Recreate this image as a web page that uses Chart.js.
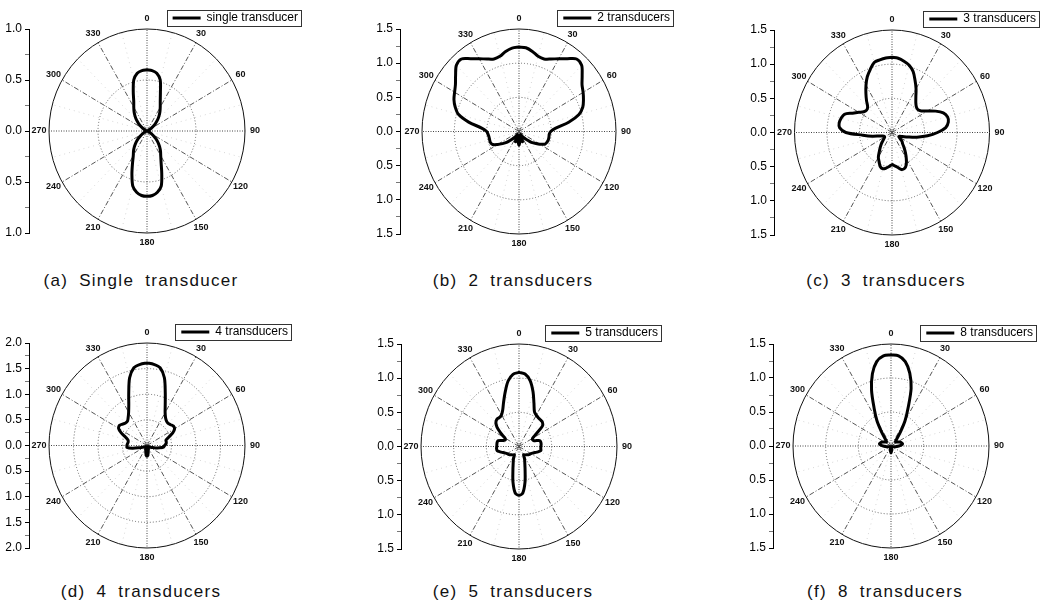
<!DOCTYPE html>
<html>
<head>
<meta charset="utf-8">
<script src="https://cdn.jsdelivr.net/npm/chart.js@4/dist/chart.umd.min.js"></script>
<style>
  html, body { margin: 0; padding: 0; background: #fff; }
  body { width: 1046px; height: 604px; position: relative; overflow: hidden; }
  .panel { position: absolute; }
  .panel canvas { display: block; }
  .caption {
    position: absolute; transform: translateX(-50%);
    font: 17px "Liberation Sans", Arial, sans-serif;
    letter-spacing: 1.3px; word-spacing: 5px;
    color: #111; white-space: nowrap; line-height: 20px;
  }
</style>
</head>
<body>
<script>
// Beam patterns: normalised amplitude every 5 degrees, clockwise from 0 (top).
const ANGLES = [0,5,10,15,20,25,30,35,40,45,50,55,60,65,70,75,80,85,90,95,100,105,110,115,
  120,125,130,135,140,145,150,155,160,165,170,175,180,185,190,195,200,205,210,215,220,225,
  230,235,240,245,250,255,260,265,270,275,280,285,290,295,300,305,310,315,320,325,330,335,
  340,345,350,355];

const RADIUS_SINGLE = [0.60,0.595,0.575,0.52,0.40,0.32,0.27,0.23,0.19,0.15,0.11,0.075,0.045,0.025,
  0.012,0.005,0,0,0,0,0,0.005,0.015,0.03,0.05,0.08,0.12,0.16,0.20,0.24,0.28,0.34,0.44,0.56,0.61,0.635,
  0.64,0.635,0.61,0.56,0.45,0.35,0.28,0.24,0.20,0.16,0.12,0.08,0.05,0.03,0.015,0.005,0,0,0,0,0,
  0.005,0.012,0.025,0.045,0.075,0.11,0.15,0.19,0.23,0.27,0.32,0.41,0.52,0.575,0.595];

const RADIUS_TWO = [1.235,1.23,1.19,1.14,1.13,1.17,1.23,1.30,1.385,1.37,1.275,1.19,1.145,1.10,1.05,
  0.96,0.78,0.57,0.49,0.47,0.47,0.47,0.46,0.44,0.37,0.30,0.25,0.17,0.12,0.08,0.05,0.10,0.16,0.12,0.06,0.14,
  0.20,0.14,0.06,0.12,0.16,0.10,0.05,0.08,0.12,0.17,0.25,0.31,0.38,0.45,0.47,0.47,0.47,0.48,0.50,0.58,
  0.79,0.97,1.05,1.11,1.15,1.20,1.28,1.37,1.385,1.30,1.23,1.17,1.13,1.14,1.19,1.225];

const RADIUS_THREE = [1.10,1.09,1.06,1.02,0.95,0.84,0.74,0.64,0.57,0.53,0.52,0.55,0.63,0.74,0.84,
  0.885,0.88,0.83,0.70,0.55,0.39,0.25,0.17,0.13,0.12,0.15,0.20,0.23,0.29,0.36,0.44,0.52,0.56,0.56,0.52,0.49,
  0.47,0.50,0.53,0.55,0.53,0.47,0.42,0.34,0.28,0.23,0.18,0.15,0.13,0.13,0.15,0.20,0.31,0.45,0.71,0.81,
  0.825,0.81,0.78,0.67,0.59,0.53,0.51,0.53,0.61,0.70,0.80,0.90,0.98,1.06,1.08,1.095];

const RADIUS_FOUR = [1.61,1.59,1.54,1.37,1.09,0.88,0.74,0.66,0.62,0.61,0.63,0.66,0.65,0.58,0.47,
  0.40,0.40,0.39,0.36,0.34,0.26,0.18,0.12,0.08,0.05,0.04,0.03,0.03,0.04,0.04,0.05,0.06,0.08,0.10,0.14,0.19,
  0.21,0.19,0.14,0.10,0.08,0.06,0.05,0.04,0.04,0.03,0.03,0.04,0.05,0.07,0.10,0.17,0.30,0.41,0.41,0.40,
  0.39,0.40,0.46,0.58,0.67,0.685,0.65,0.62,0.62,0.67,0.75,0.88,1.09,1.37,1.54,1.59];

const RADIUS_FIVE = [1.085,1.065,0.98,0.83,0.67,0.56,0.53,0.515,0.51,0.505,0.47,0.32,0.24,0.23,0.25,
  0.33,0.34,0.34,0.335,0.335,0.34,0.30,0.26,0.23,0.21,0.20,0.19,0.17,0.16,0.15,0.14,0.20,0.26,0.36,0.53,0.68,
  0.713,0.68,0.53,0.36,0.26,0.20,0.14,0.15,0.16,0.17,0.19,0.20,0.21,0.23,0.26,0.30,0.34,0.345,0.34,0.34,
  0.34,0.33,0.26,0.23,0.25,0.34,0.44,0.50,0.525,0.52,0.535,0.59,0.69,0.82,0.97,1.06];

const RADIUS_EIGHT = [1.34,1.33,1.26,1.11,0.90,0.62,0.43,0.25,0.14,0.10,0.09,0.10,0.12,0.14,0.16,
  0.17,0.18,0.16,0.12,0.09,0.06,0.04,0.03,0.02,0.02,0.02,0.02,0.02,0.02,0.02,0.02,0.02,0.02,0.03,0.05,0.08,
  0.10,0.08,0.05,0.03,0.02,0.02,0.02,0.02,0.02,0.02,0.02,0.02,0.02,0.02,0.03,0.04,0.06,0.09,0.12,0.16,
  0.18,0.17,0.16,0.14,0.12,0.10,0.09,0.10,0.14,0.25,0.43,0.61,0.87,1.10,1.26,1.33];

const SERIES_RADII = [RADIUS_SINGLE, RADIUS_TWO, RADIUS_THREE, RADIUS_FOUR, RADIUS_FIVE, RADIUS_EIGHT];
const SERIES_LABELS = ['single transducer', '2 transducers', '3 transducers',
                       '4 transducers', '5 transducers', '8 transducers'];
const CAPTIONS = ['(a) Single transducer', '(b) 2 transducers', '(c) 3 transducers',
                  '(d) 4 transducers', '(e) 5 transducers', '(f) 8 transducers'];
const RADIAL_MAX = [1.0, 1.5, 1.5, 2.0, 1.5, 1.5];
const RING_STEP = 0.5;
const ANGLE_TICKS = [0, 30, 60, 90, 120, 150, 180, 210, 240, 270, 300, 330];
const ANGLE_TICK_LABELS = ['0', '30', '60', '90', '120', '150', '180', '210', '240', '270', '300', '330'];

// Page layout of each panel: axis line x, pole position, ring radii in px, legend text end, caption centre.
const PANELS = [
  { axisX: 29,  cx: 147, cy: 130.5, rx: 98,   ry: 102,   legendEnd: 298,  capX: 141, capY: 281 },
  { axisX: 400, cx: 519, cy: 131.5, rx: 97,   ry: 102.5, legendEnd: 670,  capX: 513, capY: 281 },
  { axisX: 774, cx: 892, cy: 132,   rx: 97.5, ry: 102.5, legendEnd: 1036, capX: 886, capY: 281 },
  { axisX: 29,  cx: 147, cy: 445.5, rx: 98,   ry: 102.5, legendEnd: 288,  capX: 141, capY: 592 },
  { axisX: 401, cx: 519, cy: 446,   rx: 98,   ry: 102.5, legendEnd: 658,  capX: 513, capY: 592 },
  { axisX: 773, cx: 891, cy: 446,   rx: 98,   ry: 102,   legendEnd: 1033, capX: 885, capY: 592 }
];

const FONT = '"Liberation Sans", Arial, sans-serif';
const AXIS_W = 30, TOP_PAD = 4, LEGEND_H = 24, BOTTOM_PAD = 16, LEGEND_PAD = 7;

// Polar frame: rings, spokes, outer circle, angle labels and a frame round the legend.
const polarFrame = {
  id: 'polarFrame',
  beforeDatasetsDraw(chart, args, opts) {
    const { ctx } = chart;
    const xs = chart.scales.x, ys = chart.scales.y;
    const x0 = xs.getPixelForValue(0), y0 = ys.getPixelForValue(0);
    const kx = xs.getPixelForValue(1) - x0, ky = y0 - ys.getPixelForValue(1);
    const R = opts.rMax;
    const spoke = (deg) => {
      const a = deg * Math.PI / 180;
      ctx.beginPath();
      ctx.moveTo(x0, y0);
      ctx.lineTo(x0 + R * kx * Math.sin(a), y0 - R * ky * Math.cos(a));
      ctx.stroke();
    };
    ctx.save();
    ctx.lineWidth = 1;
    // faint intermediate spokes
    ctx.strokeStyle = 'rgba(0,0,0,0.16)';
    ctx.setLineDash([1, 4]);
    ANGLE_TICKS.forEach(a => spoke(a + 15));
    // inner rings
    ctx.strokeStyle = '#666';
    ctx.setLineDash([1, 2]);
    for (let v = RING_STEP; v < R - 1e-9; v += RING_STEP) {
      ctx.beginPath();
      ctx.ellipse(x0, y0, v * kx, v * ky, 0, 0, Math.PI * 2);
      ctx.stroke();
    }
    // major spokes
    ANGLE_TICKS.forEach(a => {
      if (a % 90 === 0) { ctx.strokeStyle = '#444'; ctx.setLineDash([1, 1.5]); }
      else { ctx.strokeStyle = '#555'; ctx.setLineDash([5, 2, 1, 2]); }
      spoke(a);
    });
    // outer ring
    ctx.setLineDash([]);
    ctx.strokeStyle = '#111';
    ctx.beginPath();
    ctx.ellipse(x0, y0, R * kx, R * ky, 0, 0, Math.PI * 2);
    ctx.stroke();
    ctx.restore();
  },
  afterDraw(chart, args, opts) {
    const { ctx } = chart;
    const xs = chart.scales.x, ys = chart.scales.y;
    const x0 = xs.getPixelForValue(0), y0 = ys.getPixelForValue(0);
    const kx = xs.getPixelForValue(1) - x0, ky = y0 - ys.getPixelForValue(1);
    const R = opts.rMax;
    ctx.save();
    ctx.fillStyle = '#111';
    ctx.font = 'bold 9px ' + FONT;
    ctx.textAlign = 'center';
    ctx.textBaseline = 'middle';
    ANGLE_TICKS.forEach((deg, i) => {
      const a = deg * Math.PI / 180;
      const s = Math.sin(a), c = Math.cos(a);
      const px = x0 + R * kx * s + 10 * s;
      const py = y0 - R * ky * c - 10 * c;
      ctx.fillText(ANGLE_TICK_LABELS[i], px, py);
    });
    const hb = chart.legend && chart.legend.legendHitBoxes && chart.legend.legendHitBoxes[0];
    if (hb) {
      ctx.strokeStyle = '#333';
      ctx.lineWidth = 1;
      const l = Math.round(hb.left - 6) + 0.5, t = Math.round(hb.top - 2) + 0.5;
      const r = Math.round(hb.left + hb.width + 3) + 0.5, b = Math.round(hb.top + hb.height + 2) + 0.5;
      ctx.strokeRect(l, t, r - l, b - t);
    }
    ctx.restore();
  }
};

PANELS.forEach((p, i) => {
  const R = RADIAL_MAX[i];
  const radii = SERIES_RADII[i];
  const left = p.axisX - AXIS_W;
  const top = Math.round(p.cy - p.ry) - TOP_PAD - LEGEND_H;
  const width = p.legendEnd + LEGEND_PAD - left;
  const height = TOP_PAD + LEGEND_H + Math.round(2 * p.ry) + BOTTOM_PAD;
  const areaW = width - AXIS_W;
  const xMin = -(p.cx - p.axisX) / p.rx * R;
  const xMax = xMin + areaW / p.rx * R;

  const box = document.createElement('div');
  box.className = 'panel';
  box.style.left = left + 'px';
  box.style.top = top + 'px';
  const canvas = document.createElement('canvas');
  canvas.width = width; canvas.height = height;
  canvas.style.width = width + 'px'; canvas.style.height = height + 'px';
  box.appendChild(canvas);
  document.body.appendChild(box);

  const cap = document.createElement('div');
  cap.className = 'caption';
  cap.textContent = CAPTIONS[i];
  cap.style.left = p.capX + 'px';
  cap.style.top = (p.capY - 10) + 'px';
  document.body.appendChild(cap);

  const points = ANGLES.map((deg, k) => {
    const a = deg * Math.PI / 180;
    return { x: radii[k] * Math.sin(a), y: radii[k] * Math.cos(a) };
  });
  points.push(points[0]);

  new Chart(canvas, {
    type: 'scatter',
    data: {
      datasets: [{
        label: SERIES_LABELS[i],
        data: points,
        showLine: true,
        borderColor: '#000',
        backgroundColor: '#000',
        borderWidth: 3,
        pointRadius: 0,
        pointHoverRadius: 0,
        tension: 0.3,
        borderJoinStyle: 'round',
        borderCapStyle: 'round'
      }]
    },
    options: {
      responsive: false,
      devicePixelRatio: 1,
      animation: false,
      events: [],
      layout: { padding: { top: TOP_PAD, right: 0, bottom: BOTTOM_PAD, left: 0 } },
      scales: {
        x: { type: 'linear', display: false, min: xMin, max: xMax },
        y: {
          type: 'linear', position: 'left', min: -R, max: R,
          afterFit: (s) => { s.width = AXIS_W; },
          ticks: {
            stepSize: 0.25, autoSkip: false, padding: 3, color: '#000',
            font: { family: FONT, size: 12 },
            callback: (v) => Math.abs(v * 2 - Math.round(v * 2)) < 1e-9 ? Math.abs(v).toFixed(1) : ''
          },
          grid: {
            drawOnChartArea: false, drawTicks: true, tickLength: 4,
            tickColor: (c) => (c.tick && Math.abs(c.tick.value * 2 - Math.round(c.tick.value * 2)) < 1e-9) ? '#000' : '#777'
          },
          border: { display: true, color: '#000', width: 1 }
        }
      },
      plugins: {
        tooltip: { enabled: false },
        legend: {
          display: true, position: 'top', align: 'end', maxHeight: LEGEND_H,
          labels: {
            color: '#000', font: { family: FONT, size: 12 },
            boxWidth: 28, boxHeight: 3, padding: LEGEND_PAD,
            generateLabels: (chart) => Chart.defaults.plugins.legend.labels.generateLabels(chart)
              .map(it => Object.assign(it, { lineWidth: 0, fillStyle: '#000', strokeStyle: '#000' }))
          }
        },
        polarFrame: { rMax: R }
      }
    },
    plugins: [polarFrame]
  });
});
</script>
</body>
</html>
